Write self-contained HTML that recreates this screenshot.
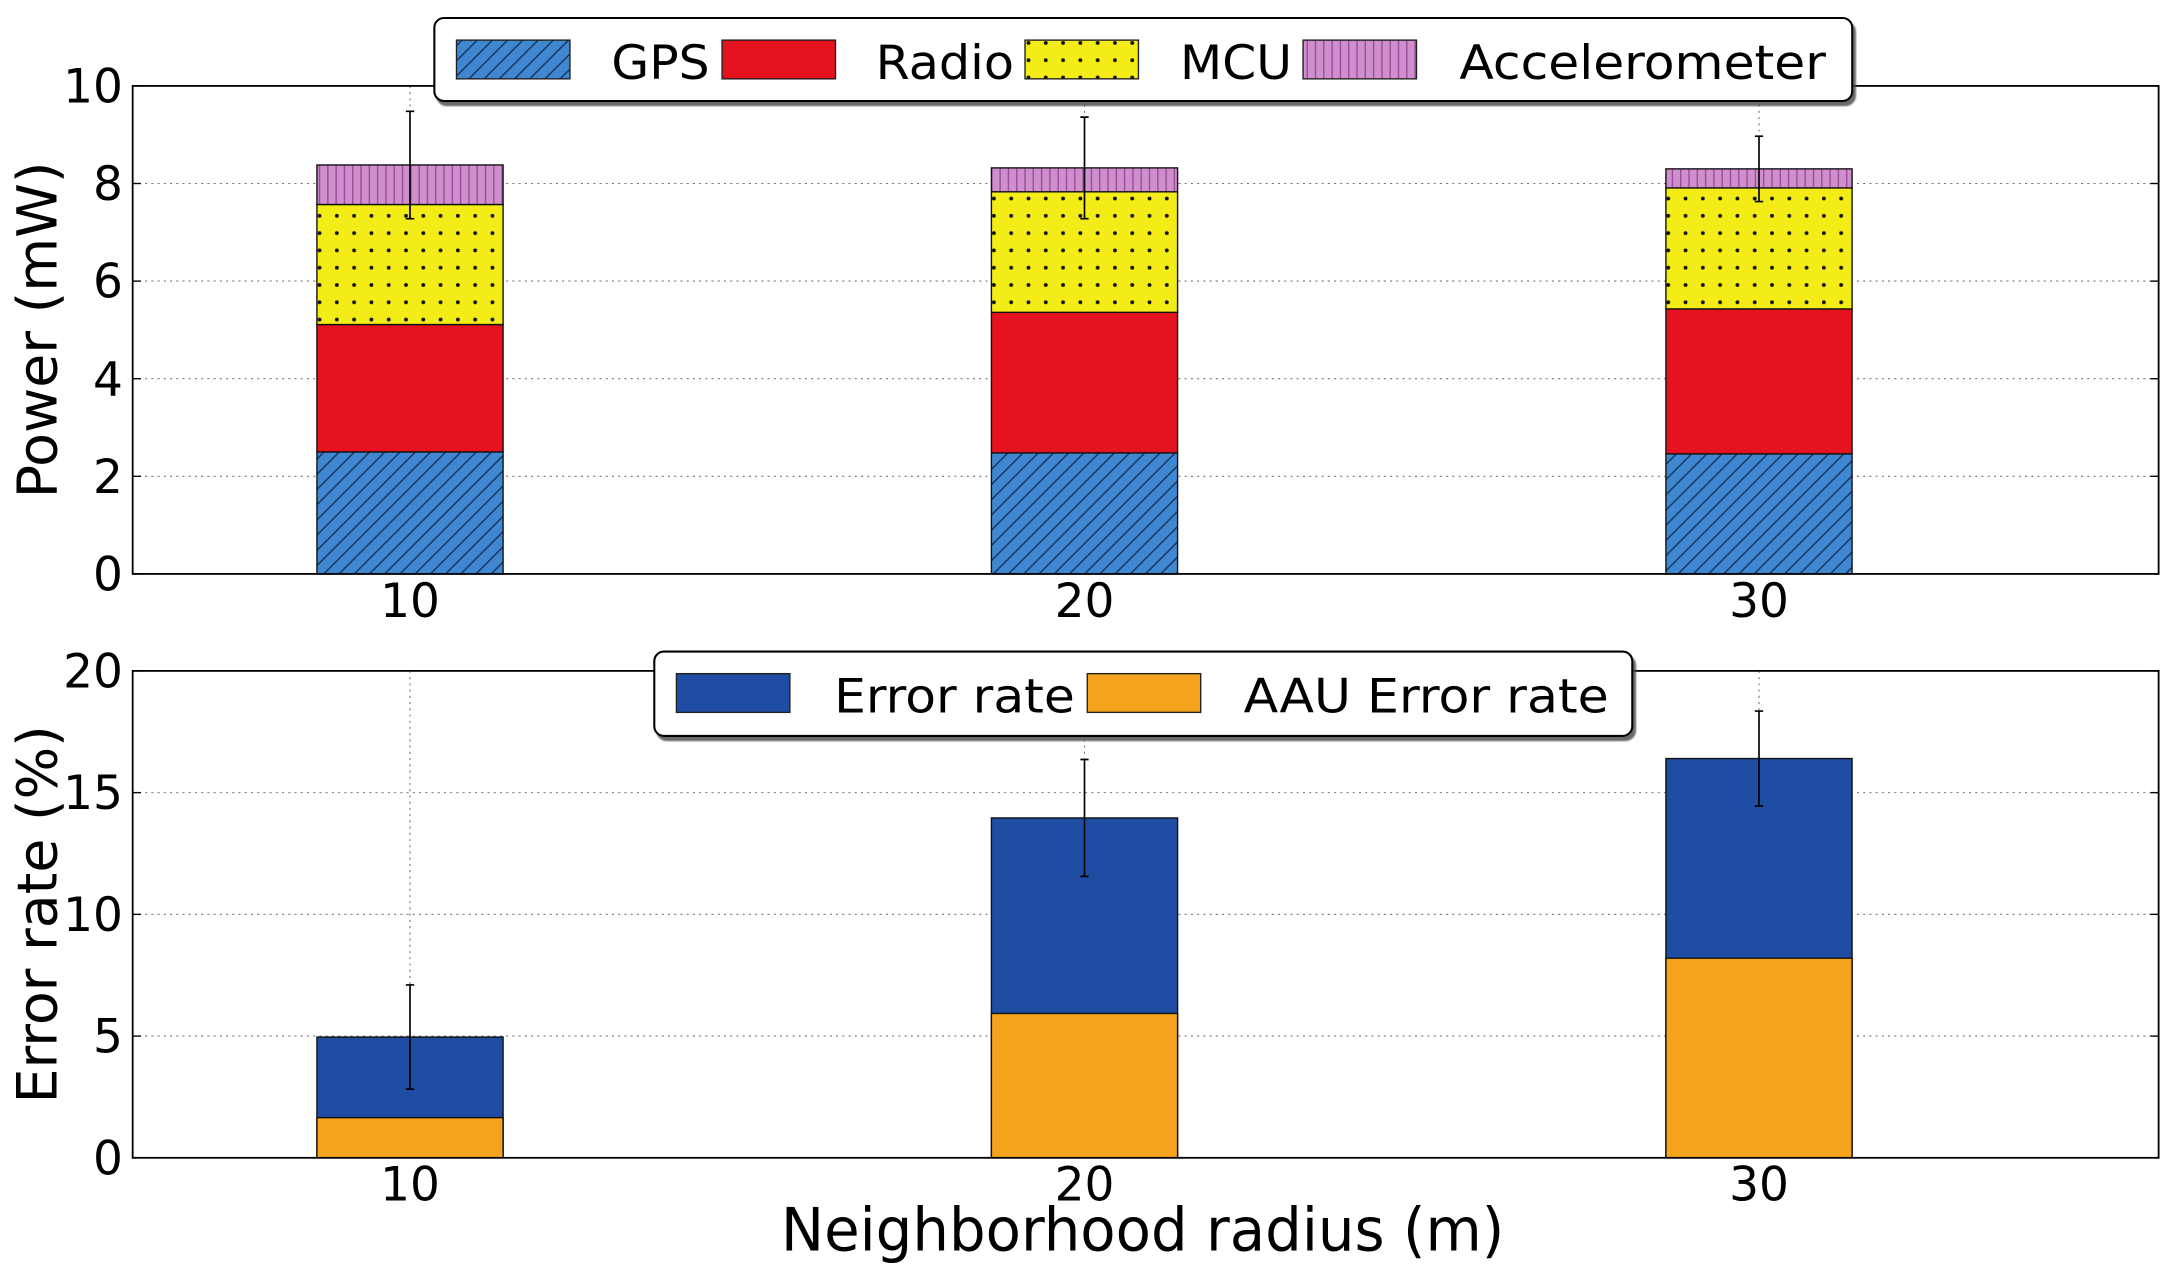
<!DOCTYPE html>
<html><head><meta charset="utf-8"><style>
html,body{margin:0;padding:0;background:#fff;}
svg{display:block;}
text{font-family:"DejaVu Sans","Liberation Sans",sans-serif;fill:#000;}
</style></head><body>
<svg id="chart" width="2169" height="1283" viewBox="0 0 1568 927.5" xmlns="http://www.w3.org/2000/svg">
<defs>
<pattern id="hGPS" patternUnits="userSpaceOnUse" width="11" height="11" patternTransform="rotate(0)">
<rect width="11" height="11" fill="#3f88d1"/><path d="M-2,13 L13,-2 M-2,2 L2,-2 M9,13 L13,9" stroke="#13305a" stroke-width="1"/></pattern>
<pattern id="hMCU" patternUnits="userSpaceOnUse" width="12.5" height="12.5">
<rect width="12.5" height="12.5" fill="#f4ec16"/><circle cx="6" cy="6" r="1.4" fill="#111"/></pattern>
<pattern id="hACC" patternUnits="userSpaceOnUse" width="6" height="10">
<rect width="6" height="10" fill="#cf8fcd"/><path d="M3,0 V10" stroke="#9a4b9a" stroke-width="1"/></pattern>
<filter id="sh" x="-5%" y="-20%" width="110%" height="150%"><feDropShadow dx="2" dy="3" stdDeviation="0.5" flood-color="#444" flood-opacity="0.8"/></filter>
</defs>
<g id="top"></g>
<g id="bot"></g>
<text x="826" y="904" font-size="43" text-anchor="middle" textLength="523" lengthAdjust="spacingAndGlyphs">Neighborhood radius (m)</text>
</svg>
<script>
const categories=[10,20,30];
const gps=[2.5,2.48,2.46];
const radio=[2.61,2.88,2.97];
const mcu=[2.46,2.47,2.48];
const accel=[0.81,0.49,0.39];
const powerErr=[1.1,1.04,0.67];
const powerTicks=[0,2,4,6,8,10];
const errorRate=[4.96,13.96,16.4];
const aauError=[1.65,5.93,8.2];
const errorErr=[2.14,2.4,1.95];
const errorTicks=[0,5,10,15,20];

const NS='http://www.w3.org/2000/svg';
const L=95.9,R=1560.5;
function xs(v){return 296.4+(v-10)*48.76;}
const BW=2.76;
function mk(p,t,a){const e=document.createElementNS(NS,t);for(const k in a)e.setAttribute(k,a[k]);p.appendChild(e);return e;}

function axes(g,T,B,maxV,ticks,label,name){
  const ys=v=>B-(v/maxV)*(B-T);
  // grid
  ticks.forEach(t=>{ if(t>0&&t<maxV){const l=mk(g,'line',{x1:L,x2:R,y1:ys(t),y2:ys(t),stroke:'#777','stroke-width':0.8,'stroke-dasharray':'1.5,3'});
    
    }});
  categories.forEach(c=>{const l=mk(g,'line',{x1:xs(c),x2:xs(c),y1:T,y2:B,stroke:'#777','stroke-width':0.8,'stroke-dasharray':'1.5,3'});
    
    });
  return ys;
}
function frame(g,T,B,maxV,ticks,label,name,ys){
  const f=mk(g,'rect',{x:L,y:T,width:R-L,height:B-T,fill:'none',stroke:'#000','stroke-width':1.3});
  
  
  ticks.forEach(t=>{
    const tx=mk(g,'text',{x:L-7,y:ys(t)+12,'font-size':34,'text-anchor':'end'});tx.textContent=t;
    
    
    mk(g,'line',{x1:R,x2:R-6,y1:ys(t),y2:ys(t),stroke:'#000','stroke-width':1});
    mk(g,'line',{x1:L,x2:L+6,y1:ys(t),y2:ys(t),stroke:'#000','stroke-width':1});
  });
  categories.forEach(c=>{
    const tx=mk(g,'text',{x:xs(c),y:B+31,'font-size':34,'text-anchor':'middle'});tx.textContent=c;
    
    
  });
  const cy=(T+B)/2;
  const yl=mk(g,'text',{x:0,y:0,'font-size':40,'text-anchor':'middle',transform:'translate(41,'+cy+') rotate(-90)'});
  yl.textContent=label;
  
  
}
function errbar(g,x,y1,y2,name){
  const e=mk(g,'path',{d:`M${x},${y1}V${y2}M${x-3},${y1}H${x+3}M${x-3},${y2}H${x+3}`,stroke:'#000','stroke-width':1.2,fill:'none'});
  
  
}
function legend(g,x,y,w,h,items,name){
  const b=mk(g,'rect',{x:x,y:y,width:w,height:h,rx:7,fill:'#fff',stroke:'#000','stroke-width':1.5,filter:'url(#sh)'});
  
  
  items.forEach(it=>{
    const p=mk(g,'rect',{x:it.px,y:y+16,width:82,height:28,fill:it.fill,stroke:'#222','stroke-width':1});
    
    
    const t=mk(g,'text',{x:it.tx,y:y+44,'font-size':34,textLength:it.tw,lengthAdjust:'spacingAndGlyphs'});t.textContent=it.label;
    
    
  });
}

// top chart
(function(){
  const g=document.getElementById('top');const T=62.1,B=414.9;
  const ys=axes(g,T,B,10,powerTicks,'Power (mW)','power');
  const series=[[gps,'url(#hGPS)','gps'],[radio,'#e5131f','radio'],[mcu,'url(#hMCU)','mcu'],[accel,'url(#hACC)','accelerometer']];
  categories.forEach((c,i)=>{
    let base=0;
    series.forEach(s=>{
      const v=s[0][i];
      const r=mk(g,'rect',{x:xs(c-BW/2),y:ys(base+v),width:xs(c+BW/2)-xs(c-BW/2),height:ys(base)-ys(base+v),fill:s[1],stroke:'#111','stroke-width':1});
      
      
      base+=v;
    });
    errbar(g,xs(c),ys(base+powerErr[i]),ys(base-powerErr[i]),'power-error-bar-'+c);
  });
  frame(g,T,B,10,powerTicks,'Power (mW)','power',ys);
  legend(g,314,13,1025,60,[
    {key:'gps',px:330,tx:442,tw:71,fill:'url(#hGPS)',label:'GPS'},
    {key:'radio',px:522,tx:633,tw:100,fill:'#e5131f',label:'Radio'},
    {key:'mcu',px:741,tx:853,tw:81,fill:'url(#hMCU)',label:'MCU'},
    {key:'accelerometer',px:942,tx:1055,tw:265,fill:'url(#hACC)',label:'Accelerometer'}],'power-legend');
})();

// bottom chart
(function(){
  const g=document.getElementById('bot');const T=485,B=837;
  const ys=axes(g,T,B,20,errorTicks,'Error rate (%)','error');
  categories.forEach((c,i)=>{
    const x0=xs(c-BW/2),w=xs(c+BW/2)-x0;
    const r=mk(g,'rect',{x:x0,y:ys(errorRate[i]),width:w,height:B-ys(errorRate[i]),fill:'#1f4da3',stroke:'#111','stroke-width':1});
    
    
    const a=mk(g,'rect',{x:x0,y:ys(aauError[i]),width:w,height:B-ys(aauError[i]),fill:'#f5a31c',stroke:'#111','stroke-width':1});
    
    
    errbar(g,xs(c),ys(errorRate[i]+errorErr[i]),ys(errorRate[i]-errorErr[i]),'error-rate-error-bar-'+c);
  });
  frame(g,T,B,20,errorTicks,'Error rate (%)','error',ys);
  legend(g,473,471,707,61,[
    {key:'error-rate',px:489,tx:603,tw:174,fill:'#1f4da3',label:'Error rate'},
    {key:'aau-error-rate',px:786,tx:899,tw:264,fill:'#f5a31c',label:'AAU Error rate'}],'error-legend');
})();
</script>
</body></html>
